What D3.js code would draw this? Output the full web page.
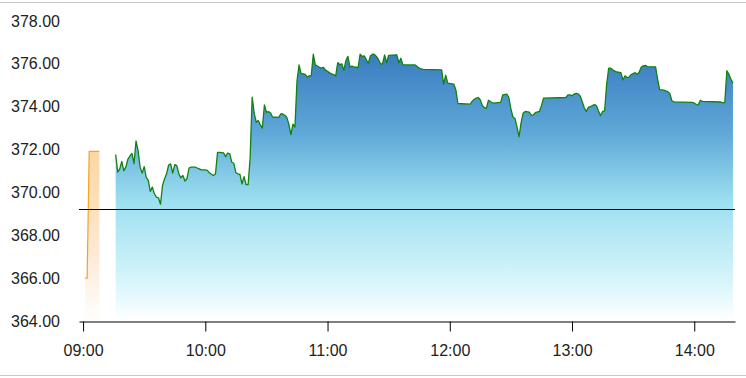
<!doctype html>
<html>
<head>
  <meta charset="utf-8">
  <title>Intraday price</title>
  <script src="https://cdnjs.cloudflare.com/ajax/libs/d3/7.8.5/d3.min.js"></script>
  <style>
  body { margin: 0; background: #fff; }
  .axis text { font-family: "Liberation Sans", Arial, sans-serif; font-size: 16px; fill: #222; }
  .axis path, .axis line { stroke: #000; }
  .price { stroke: #118211; stroke-width: 1.3px; fill: none; stroke-linejoin: round; }
  .pre { stroke: #f2a51e; stroke-width: 1.2px; fill: none; }
  </style>
</head>
<body>
<script>
// pre-open session
var preTimes = ["09:01", "09:02", "09:03", "09:08"],
    prePrices = [366.00, 366.00, 371.92, 371.92];

// regular session (flat stretches only keep their end points)
var times = [
  "09:16","09:17","09:18","09:19","09:20","09:21","09:22","09:23","09:24","09:25",
  "09:26","09:27","09:28","09:29","09:30","09:31","09:32","09:33","09:34","09:35",
  "09:36","09:37","09:38","09:39","09:40","09:41","09:42","09:43","09:44","09:45",
  "09:46","09:47","09:48","09:49","09:50","09:51","09:52","09:53",
  "09:55","09:56","09:57","09:58",
  "10:00","10:01","10:02","10:03","10:04","10:05","10:06","10:07","10:08","10:09",
  "10:10","10:11","10:12","10:13","10:14","10:15","10:16","10:17","10:18","10:19",
  "10:20","10:21","10:22","10:23","10:24","10:25","10:26","10:27","10:28","10:29",
  "10:30","10:31","10:32","10:33","10:36","10:37","10:38","10:39",
  "10:40","10:41","10:42","10:43","10:44","10:45","10:46","10:47","10:49",
  "10:50","10:51","10:52","10:53","10:54","10:55","10:56","10:57","10:58","10:59",
  "11:00","11:01","11:02","11:03","11:04","11:05","11:06","11:07","11:08","11:09",
  "11:10","11:11","11:12","11:13","11:15","11:16","11:17","11:18","11:19",
  "11:20","11:21","11:22","11:23","11:24","11:25","11:26","11:27","11:28","11:29",
  "11:30","11:34","11:35","11:36","11:37",
  "11:43","11:44","11:45","11:46","11:47",
  "11:56","11:57","11:58","11:59",
  "12:02","12:03","12:04",
  "12:10","12:11","12:12","12:13","12:14","12:15","12:16","12:17","12:18","12:19",
  "12:20","12:21","12:25","12:26","12:28","12:29",
  "12:30","12:31","12:32","12:33","12:34","12:35","12:36","12:37","12:39",
  "12:40","12:41","12:42","12:44","12:45","12:46",
  "12:57","12:58","12:59",
  "13:00","13:01","13:02","13:03","13:04","13:05","13:06","13:07","13:08","13:09",
  "13:10","13:11","13:12","13:13","13:14","13:15","13:16","13:17","13:18","13:19",
  "13:20","13:21","13:22","13:24","13:25","13:26","13:27","13:28","13:29",
  "13:31","13:32","13:33","13:34","13:35","13:36","13:37",
  "13:41","13:42","13:43","13:45","13:46","13:47","13:48","13:49",
  "13:50","13:59",
  "14:00","14:01","14:02","14:03","14:04","14:13","14:14","14:15","14:16","14:17","14:18","14:19"
];
var prices = [
  371.77,370.95,371.10,371.45,371.02,371.18,371.55,371.70,371.82,371.35,
  372.40,371.95,371.18,370.90,371.20,370.70,370.56,370.05,370.25,369.94,
  369.78,369.75,369.45,370.33,370.64,370.87,371.28,371.33,370.90,371.30,
  371.25,370.87,370.68,370.79,370.53,370.64,371.14,371.18,
  371.18,371.14,371.10,371.05,
  371.05,371.03,370.92,370.85,370.79,370.87,371.87,371.87,371.86,371.84,
  371.67,371.84,371.80,371.41,371.36,370.92,370.87,370.84,370.40,370.74,
  370.37,370.36,371.60,374.45,373.70,373.28,373.35,373.15,373.00,374.08,
  373.74,373.77,373.72,373.52,373.50,373.66,373.66,373.60,
  373.50,373.19,372.70,373.19,373.05,375.20,375.95,375.56,375.51,
  375.38,375.44,375.45,376.45,375.95,375.90,375.84,375.80,375.84,375.71,
  375.65,375.58,375.53,375.50,375.44,376.06,375.96,376.00,375.70,376.15,
  376.35,375.85,375.90,375.86,375.83,376.45,376.35,376.37,376.20,
  376.02,376.37,376.45,376.44,376.35,376.20,376.00,376.00,376.42,376.05,
  376.40,376.42,376.05,376.26,375.95,
  375.95,375.88,375.80,375.76,375.74,
  375.72,375.05,375.47,375.10,
  375.05,374.78,374.15,
  374.12,374.25,374.35,374.40,374.43,374.32,374.05,373.95,373.94,374.30,
  374.24,374.17,374.20,374.55,374.59,374.43,
  373.90,373.52,373.45,373.05,372.60,373.25,373.70,373.78,373.75,
  373.61,373.62,373.72,373.78,374.05,374.40,
  374.43,374.55,374.55,
  374.51,374.59,374.62,374.60,374.50,374.25,373.95,373.78,373.97,374.00,
  374.05,374.10,374.05,373.80,373.58,373.78,373.81,375.05,375.80,375.80,
  375.72,375.66,375.62,375.59,375.25,375.44,375.36,375.38,375.50,
  375.59,375.51,375.62,375.85,375.91,375.93,375.87,
  375.86,375.30,374.80,374.77,374.74,374.70,374.62,374.28,
  374.23,374.20,
  374.17,374.10,374.09,374.30,374.25,374.22,374.18,374.20,375.68,375.52,375.28,375.10
];

var prevClose = 369.23;
var xTicks = ["09:00", "10:00", "11:00", "12:00", "13:00", "14:00"];
var yTicks = [364, 366, 368, 370, 372, 374, 376, 378];
var xRange = ["08:58", "14:20"];

var W = 746, H = 378,
    mLeft = 79, mRight = 735, mTop = 21, mBottom = 321;

var parse = d3.timeParse("%H:%M");
var main = times.map(function(t, i) { return {t: parse(t), v: prices[i]}; });
var pre = preTimes.map(function(t, i) { return {t: parse(t), v: prePrices[i]}; });

var svg = d3.select("body").append("svg")
    .attr("width", W)
    .attr("height", H);

var x = d3.scaleTime()
    .domain(xRange.map(parse))
    .range([mLeft, mRight]);

var y = d3.scaleLinear()
    .domain([364, 378])
    .range([mBottom, mTop]);

var defs = svg.append("defs");
var g1 = defs.append("linearGradient")
    .attr("id", "blueFill")
    .attr("x1", 0).attr("y1", 0).attr("x2", 0).attr("y2", 1);
[[0, "#3a7cc0"], [0.3, "#5fa9d8"], [0.55, "#9ddff0"], [0.85, "#d6f5fb"], [1, "#ffffff"]].forEach(function(s) {
  g1.append("stop").attr("offset", s[0]).attr("stop-color", s[1]);
});
var g2 = defs.append("linearGradient")
    .attr("id", "orangeFill")
    .attr("x1", 0).attr("y1", 0).attr("x2", 0).attr("y2", 1);
[[0, "#fcd6a3"], [0.6, "#fde9d4"], [1, "#ffffff"]].forEach(function(s) {
  g2.append("stop").attr("offset", s[0]).attr("stop-color", s[1]);
});

// frame lines
svg.append("line").attr("x1", 0).attr("x2", W).attr("y1", 2.5).attr("y2", 2.5)
    .attr("stroke", "#c8c8c8");
svg.append("line").attr("x1", 0).attr("x2", W).attr("y1", 375.5).attr("y2", 375.5)
    .attr("stroke", "#c8c8c8");

var area = d3.area()
    .x(function(d) { return x(d.t); })
    .y0(mBottom)
    .y1(function(d) { return y(d.v); });
var line = d3.line()
    .x(function(d) { return x(d.t); })
    .y(function(d) { return y(d.v); });

svg.append("path").datum(pre).attr("d", area).attr("fill", "url(#orangeFill)");
svg.append("path").datum(pre).attr("class", "pre").attr("d", line);

svg.append("path").datum(main).attr("d", area).attr("fill", "url(#blueFill)");
svg.append("path").datum(main).attr("class", "price").attr("d", line);

// previous close
svg.append("line")
    .attr("x1", mLeft).attr("x2", mRight)
    .attr("y1", Math.round(y(prevClose)) + 0.5).attr("y2", Math.round(y(prevClose)) + 0.5)
    .attr("stroke", "#000");

svg.append("g")
    .attr("class", "axis")
    .attr("transform", "translate(0," + (mBottom + 0.5) + ")")
    .call(d3.axisBottom(x)
      .tickValues(xTicks.map(parse))
      .tickFormat(d3.timeFormat("%H:%M"))
      .tickSizeInner(10).tickSizeOuter(0).tickPadding(13));

var ya = svg.append("g")
    .attr("class", "axis")
    .attr("transform", "translate(" + mLeft + ",0)")
    .call(d3.axisLeft(y)
      .tickValues(yTicks)
      .tickFormat(d3.format(".2f"))
      .tickSize(0).tickPadding(19));
ya.select(".domain").remove();
</script>
</body>
</html>
